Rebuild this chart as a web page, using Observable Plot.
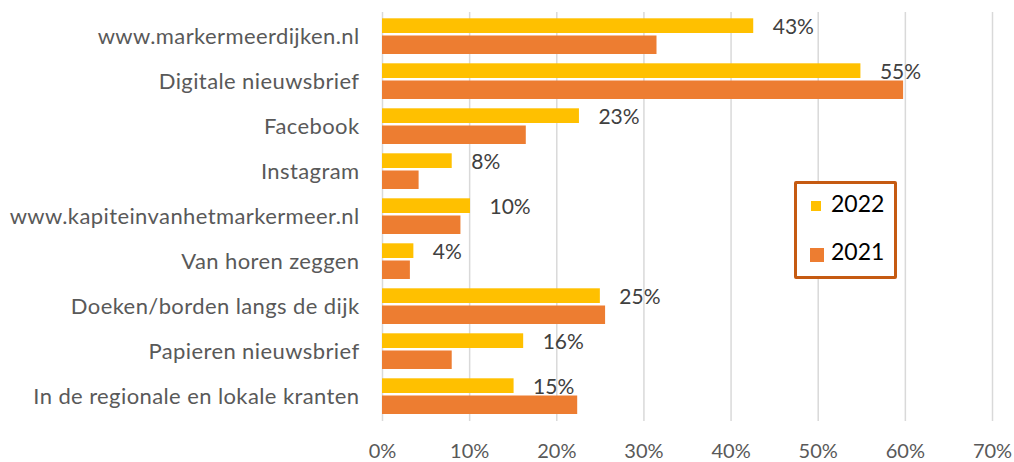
<!DOCTYPE html>
<html><head><meta charset="utf-8">
<script src="https://cdn.jsdelivr.net/npm/d3@7"></script>
<script src="https://cdn.jsdelivr.net/npm/@observablehq/plot@0.6"></script>
<style>
body{margin:0;background:#fff;}
#wrap{position:relative;width:1014px;height:462px;font-family:Lato,sans-serif;}
#wrap svg g[aria-label="y-axis tick label"] text{letter-spacing:0.4px;font-size:22px;}
#wrap svg g[aria-label="x-axis tick label"] text{font-size:20px;}
.legend{position:absolute;left:794px;top:181px;width:103px;height:98px;box-sizing:border-box;border:3px solid #C55A11;border-radius:2px;background:#fff;}
.item{position:absolute;left:0;font-size:23px;color:#000;line-height:1;}
.sw{position:absolute;}
.lab{position:absolute;left:34px;white-space:nowrap;}
</style></head>
<body><div id="wrap"></div>
<script>
const categories = [
  "www.markermeerdijken.nl",
  "Digitale nieuwsbrief",
  "Facebook",
  "Instagram",
  "www.kapiteinvanhetmarkermeer.nl",
  "Van horen zeggen",
  "Doeken/borden langs de dijk",
  "Papieren nieuwsbrief",
  "In de regionale en lokale kranten"
];
const values2022 = [42.6, 54.9, 22.6, 8.0, 10.1, 3.6, 25.0, 16.2, 15.1];
const values2021 = [31.5, 59.8, 16.5, 4.2, 9.0, 3.2, 25.6, 8.0, 22.4];
const xTicks = [0, 10, 20, 30, 40, 50, 60, 70];
const seriesNames = ["2022", "2021"];
const seriesColors = ["#FFC000", "#ED7D31"];

const data = categories.map((c, i) => ({category: c, v2022: values2022[i], v2021: values2021[i]}));

const chart = Plot.plot({
  width: 1014, height: 462,
  marginLeft: 382, marginRight: 22, marginTop: 12, marginBottom: 41,
  style: {fontFamily: "Lato, sans-serif", fontSize: "21px", color: "#595959", background: "white"},
  x: {domain: [0, 70], ticks: xTicks, tickFormat: d => d + "%", label: null, tickSize: 0, tickPadding: 22.5},
  y: {domain: categories, paddingInner: 0.2, paddingOuter: 0.1, label: null, tickSize: 0, tickPadding: 23},
  marks: [
    Plot.ruleX(xTicks, {stroke: "#D9D9D9", strokeWidth: 1.5}),
    Plot.barX(data, {y: "category", x: "v2022", fill: seriesColors[0], insetTop: 0.3, insetBottom: 21}),
    Plot.barX(data, {y: "category", x: "v2021", fill: seriesColors[1], insetTop: 17.5, insetBottom: 0}),
    Plot.text(data, {y: "category", x: "v2022", text: d => Math.round(d.v2022) + "%", dx: 19, dy: -9.5,
      textAnchor: "start", fill: "#404040", fontSize: 21})
  ]
});
const wrap = document.getElementById("wrap");
wrap.appendChild(chart);

const legend = document.createElement("div");
legend.className = "legend";
const sw = [{size: 10, left: 14, top: 17}, {size: 14.5, left: 12.5, top: 63.5}];
const labTop = [8, 56];
seriesNames.forEach((name, i) => {
  const s = document.createElement("div");
  s.className = "sw";
  s.style.cssText = `left:${sw[i].left}px;top:${sw[i].top}px;width:${sw[i].size}px;height:${sw[i].size}px;background:${seriesColors[i]}`;
  const l = document.createElement("div");
  l.className = "item lab";
  l.style.top = labTop[i] + "px";
  l.textContent = name;
  legend.appendChild(s);
  legend.appendChild(l);
});
wrap.appendChild(legend);
</script>
</body></html>
